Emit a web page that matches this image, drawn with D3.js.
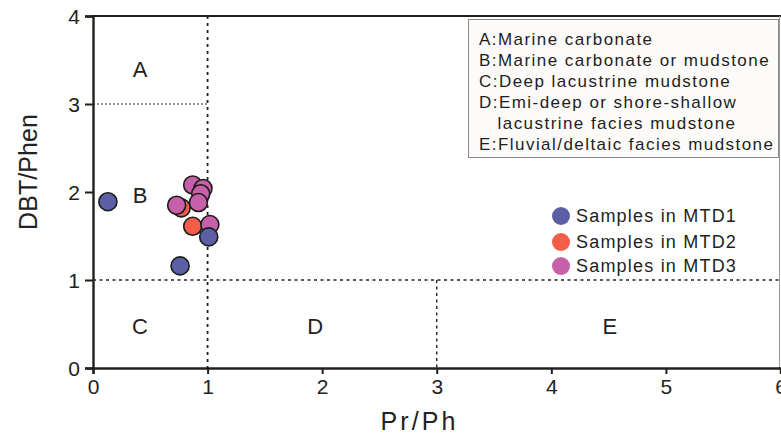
<!DOCTYPE html>
<html>
<head>
<meta charset="utf-8">
<script src="https://cdn.jsdelivr.net/npm/d3@7/dist/d3.min.js"></script>
<style>
  html, body { margin: 0; padding: 0; background: #fff; }
  svg { display: block; }
</style>
</head>
<body>
<svg id="chart" width="781" height="436"></svg>
<script>
// Pr/Ph versus DBT/Phen cross-plot with depositional-environment fields
const xTicks = [0, 1, 2, 3, 4, 5, 6];
const yTicks = [0, 1, 2, 3, 4];

const mtd1X = [0.13, 0.76, 1.01];
const mtd1Y = [1.89, 1.16, 1.49];
const mtd2X = [0.87, 0.77];
const mtd2Y = [1.61, 1.82];
const mtd3X = [0.87, 0.96, 0.94, 0.92, 0.73, 1.02];
const mtd3Y = [2.08, 2.04, 1.98, 1.88, 1.85, 1.63];

const seriesNames = ["Samples in MTD1", "Samples in MTD2", "Samples in MTD3"];
const seriesColors = ["#5c5fa6", "#f45d48", "#c660a8"];

const fieldLabels = ["A", "B", "C", "D", "E"];
const fieldX = [0.41, 0.41, 0.41, 1.94, 4.51];
const fieldY = [3.40, 1.97, 0.48, 0.48, 0.48];

const keyLines = [
  "A:Marine carbonate",
  "B:Marine carbonate or mudstone",
  "C:Deep lacustrine mudstone",
  "D:Emi-deep or shore-shallow",
  "   lacustrine facies mudstone",
  "E:Fluvial/deltaic facies mudstone"
];

const svg = d3.select("#chart");
const font = "'Liberation Sans', Arial, sans-serif";
const plotLeft = 93, plotRight = 780.5, plotTop = 16, plotBottom = 368;

const x = d3.scaleLinear().domain([0, 6]).range([plotLeft, plotRight]);
const y = d3.scaleLinear().domain([0, 4]).range([plotBottom, plotTop]);

// Boundary lines of the fields
const bounds = [
  [1, 4, 1, 0],
  [0, 3, 1, 3],
  [0, 1, 6, 1],
  [3, 1, 3, 0]
];
svg.append("g").selectAll("line").data(bounds).join("line")
  .attr("x1", d => x(d[0])).attr("y1", d => y(d[1]))
  .attr("x2", d => x(d[2])).attr("y2", d => y(d[3]))
  .attr("stroke", "#222")
  .attr("stroke-width", (d, i) => i === 0 ? 1.8 : (i === 1 ? 1.1 : 1.4))
  .attr("stroke-dasharray", (d, i) => i === 0 ? "3,4" : (i === 1 ? "2,2" : "3,3.5"));

// Frame: top and right edges
svg.append("line").attr("x1", plotLeft - 1).attr("x2", 781).attr("y1", plotTop).attr("y2", plotTop)
  .attr("stroke", "#231f1c").attr("stroke-width", 2.2);
svg.append("line").attr("x1", 779.5).attr("x2", 779.5).attr("y1", plotTop).attr("y2", plotBottom)
  .attr("stroke", "#999").attr("stroke-width", 1);

// Axes
const xAxis = svg.append("g").attr("transform", `translate(0,${plotBottom})`)
  .call(d3.axisBottom(x).tickValues(xTicks).tickFormat(d3.format("d")).tickSize(6).tickPadding(5));
const yAxis = svg.append("g").attr("transform", `translate(${plotLeft},0)`)
  .call(d3.axisLeft(y).tickValues(yTicks).tickFormat(d3.format("d")).tickSize(8).tickPadding(5));
[xAxis, yAxis].forEach(g => {
  g.select(".domain").attr("stroke", "#231f1c").attr("stroke-width", 2.4);
  g.selectAll(".tick line").attr("stroke", "#231f1c").attr("stroke-width", 2);
  g.selectAll(".tick text").attr("fill", "#222").style("font-family", font).style("font-size", "21px");
});
yAxis.selectAll(".tick text").attr("dy", "0.36em");

// Axis titles
svg.append("text").attr("x", 418).attr("y", 430)
  .attr("text-anchor", "middle").style("font-family", font).style("font-size", "25px")
  .attr("textLength", 75).attr("lengthAdjust", "spacing")
  .attr("fill", "#222").text("Pr/Ph");
svg.append("text").attr("transform", "translate(37,172) rotate(-90)")
  .attr("text-anchor", "middle").style("font-family", font).style("font-size", "25px")
  .attr("textLength", 116).attr("lengthAdjust", "spacing")
  .attr("fill", "#222").text("DBT/Phen");

// Field letters
svg.append("g").selectAll("text").data(fieldLabels).join("text")
  .attr("x", (d, i) => x(fieldX[i])).attr("y", (d, i) => y(fieldY[i]))
  .attr("text-anchor", "middle").attr("dy", "0.36em")
  .style("font-family", font).style("font-size", "22px")
  .attr("fill", "#222").text(d => d);

// Samples (MTD2 first, then MTD3, then MTD1 on top)
const groups = [
  { xs: mtd2X, ys: mtd2Y, c: seriesColors[1] },
  { xs: mtd3X, ys: mtd3Y, c: seriesColors[2] },
  { xs: mtd1X, ys: mtd1Y, c: seriesColors[0] }
];
groups.forEach(g => {
  svg.append("g").selectAll("circle").data(g.xs).join("circle")
    .attr("cx", d => x(d)).attr("cy", (d, i) => y(g.ys[i]))
    .attr("r", 9).attr("fill", g.c).attr("stroke", "#1c1a1a").attr("stroke-width", 1.6);
});

// Field key box
const key = svg.append("g");
key.append("rect").attr("x", 468.5).attr("y", 19.5).attr("width", 310).attr("height", 138)
  .attr("fill", "#fdfbf9").attr("stroke", "#8a8a8a").attr("stroke-width", 1);
key.selectAll("text").data(keyLines).join("text")
  .attr("x", 479).attr("y", (d, i) => 44.5 + i * 21.1)
  .style("font-family", font).style("font-size", "17px")
  .style("letter-spacing", "1.45px").style("white-space", "pre")
  .attr("fill", "#1e1e1e").text(d => d);

// Series legend
const leg = svg.append("g");
const legY = [216, 242, 266];
leg.selectAll("circle").data(seriesNames).join("circle")
  .attr("cx", 561).attr("cy", (d, i) => legY[i]).attr("r", 9)
  .attr("fill", (d, i) => seriesColors[i]);
leg.selectAll("text").data(seriesNames).join("text")
  .attr("x", 576).attr("y", (d, i) => legY[i]).attr("dy", "0.36em")
  .style("font-family", font).style("font-size", "18px").style("letter-spacing", "1.2px")
  .attr("fill", "#1e1e1e").text(d => d);
</script>
</body>
</html>
